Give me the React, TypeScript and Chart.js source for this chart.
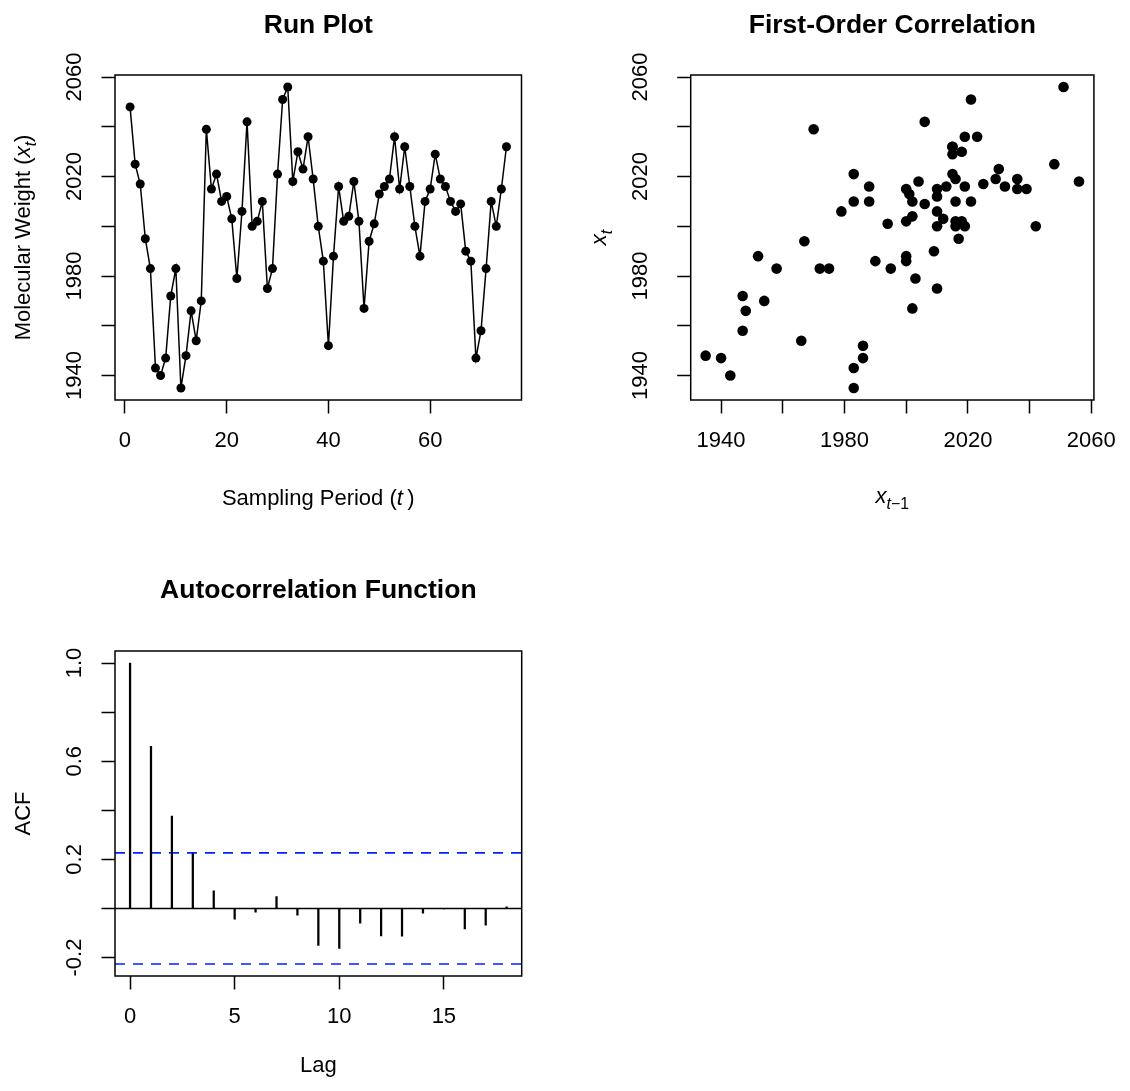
import React, { useEffect, useRef } from 'react';
import { Chart, registerables } from 'chart.js';

Chart.register(...registerables);

const FAMILY = '"Liberation Sans", Arial, Helvetica, sans-serif';
const LABEL_SIZE = 22;
const TITLE_SIZE = 26.5;
const CAP = LABEL_SIZE * 0.716;

// ---------- data ----------
const PERIODS = [
  1, 2, 3, 4, 5, 6, 7, 8, 9, 10, 11, 12, 13, 14, 15, 16, 17, 18, 19, 20,
  21, 22, 23, 24, 25, 26, 27, 28, 29, 30, 31, 32, 33, 34, 35, 36, 37, 38, 39, 40,
  41, 42, 43, 44, 45, 46, 47, 48, 49, 50, 51, 52, 53, 54, 55, 56, 57, 58, 59, 60,
  61, 62, 63, 64, 65, 66, 67, 68, 69, 70, 71, 72, 73, 74, 75,
];
const MOLECULAR_WEIGHT = [
  2048, 2025, 2017, 1995, 1983, 1943, 1940, 1947, 1972, 1983,
  1935, 1948, 1966, 1954, 1970, 2039, 2015, 2021, 2010, 2012,
  2003, 1979, 2006, 2042, 2000, 2002, 2010, 1975, 1983, 2021,
  2051, 2056, 2018, 2030, 2023, 2036, 2019, 2000, 1986, 1952,
  1988, 2016, 2002, 2004, 2018, 2002, 1967, 1994, 2001, 2013,
  2016, 2019, 2036, 2015, 2032, 2016, 2000, 1988, 2010, 2015,
  2029, 2019, 2016, 2010, 2006, 2009, 1990, 1986, 1947, 1958,
  1983, 2010, 2000, 2015, 2032,
];
// lag-1 pairs (x_{t-1}, x_t) taken from the same series
const PREV_WEIGHT = MOLECULAR_WEIGHT.slice(0, -1);
const CURR_WEIGHT = MOLECULAR_WEIGHT.slice(1);

const ACF_LAGS = [0, 1, 2, 3, 4, 5, 6, 7, 8, 9, 10, 11, 12, 13, 14, 15, 16, 17, 18];
const ACF_VALUES = [
  1.0, 0.661, 0.376, 0.224, 0.072, -0.044, -0.015, 0.048, -0.027, -0.151,
  -0.163, -0.06, -0.112, -0.113, -0.019, -0.002, -0.084, -0.068, 0.007,
];
const CONF_LIMIT = 0.2263;

// ---------- axes ----------
const PERIOD_RANGE = [-1.96, 77.96];
const WEIGHT_RANGE = [1930.16, 2060.84];
const LAG_RANGE = [-0.72, 18.72];
const ACF_RANGE = [-0.2754, 1.0491];

const PERIOD_TICKS = [0, 20, 40, 60];
const WEIGHT_TICKS = [1940, 1960, 1980, 2000, 2020, 2040, 2060];
const WEIGHT_TICK_LABELS = ['1940', '', '1980', '', '2020', '', '2060'];
const LAG_TICKS = [0, 5, 10, 15];
const ACF_TICKS = [-0.2, 0, 0.2, 0.4, 0.6, 0.8, 1.0];
const ACF_TICK_LABELS = ['-0.2', '', '0.2', '', '0.6', '', '1.0'];

type Run = { text: string; italic?: boolean; sub?: boolean };

function drawRich(ctx: CanvasRenderingContext2D, runs: Run[], size: number, cx: number, baseline: number) {
  const parts = runs.map((r) => {
    const fs = r.sub ? size * 0.72 : size;
    const font = `${r.italic ? 'italic ' : ''}${fs}px ${FAMILY}`;
    ctx.font = font;
    const w = ctx.measureText(r.text).width;
    return { ...r, font, w, dy: r.sub ? size * 0.28 : 0 };
  });
  const total = parts.reduce((s, p) => s + p.w, 0);
  let x = cx - total / 2;
  ctx.textAlign = 'left';
  ctx.textBaseline = 'alphabetic';
  for (const p of parts) {
    ctx.font = p.font;
    ctx.fillText(p.text, x, baseline + p.dy);
    x += p.w;
  }
}

interface PanelSpec {
  left: number;
  top: number;
  width: number;
  height: number;
  area: { l: number; r: number; t: number; b: number };
  title: string;
  titleBaseline: number;
  xTitle: Run[];
  xTitleBaseline: number;
  yTitle: Run[];
  yTitleCenterX: number;
  yLabelCenterX: number;
  xTicks: number[];
  xTickLabels: string[];
  yTicks: number[];
  yTickLabels: string[];
  xRange: number[];
  yRange: number[];
  type: any;
  datasets: any[];
}

function makeDecor(spec: PanelSpec) {
  return {
    id: 'decor',
    afterDraw(chart: any) {
      const { ctx, chartArea: a, scales } = chart;
      ctx.save();
      ctx.strokeStyle = '#000';
      ctx.lineWidth = 1.5;
      ctx.strokeRect(a.left, a.top, a.right - a.left, a.bottom - a.top);
      ctx.fillStyle = '#000';
      // main title
      ctx.font = `bold ${TITLE_SIZE}px ${FAMILY}`;
      ctx.textAlign = 'center';
      ctx.textBaseline = 'alphabetic';
      ctx.fillText(spec.title, (a.left + a.right) / 2, spec.titleBaseline);
      // x axis title
      drawRich(ctx, spec.xTitle, LABEL_SIZE, (a.left + a.right) / 2, spec.xTitleBaseline);
      // y tick labels (rotated, as in R)
      const ys = scales.y;
      spec.yTicks.forEach((v, i) => {
        const txt = spec.yTickLabels[i];
        if (!txt) return;
        const py = ys.getPixelForValue(v);
        ctx.save();
        ctx.translate(spec.yLabelCenterX, py);
        ctx.rotate(-Math.PI / 2);
        ctx.font = `${LABEL_SIZE}px ${FAMILY}`;
        ctx.textAlign = 'center';
        ctx.textBaseline = 'alphabetic';
        ctx.fillText(txt, 0, CAP / 2);
        ctx.restore();
      });
      // y axis title
      ctx.save();
      ctx.translate(spec.yTitleCenterX, (a.top + a.bottom) / 2);
      ctx.rotate(-Math.PI / 2);
      drawRich(ctx, spec.yTitle, LABEL_SIZE, 0, CAP / 2);
      ctx.restore();
      ctx.restore();
    },
  };
}

function Panel({ spec }: { spec: PanelSpec }) {
  const ref = useRef<HTMLCanvasElement | null>(null);
  useEffect(() => {
    if (!ref.current) return;
    const grid = {
      display: true,
      offset: false,
      drawOnChartArea: false,
      drawTicks: true,
      tickLength: 13.5,
      tickWidth: 1.5,
      tickColor: '#000',
      color: '#000',
    };
    const chart = new Chart(ref.current, {
      type: spec.type,
      data: { datasets: spec.datasets },
      options: {
        responsive: false,
        animation: false,
        events: [],
        layout: {
          autoPadding: false,
          padding: { left: 0, top: spec.area.t, right: spec.width - spec.area.r, bottom: 0 },
        },
        plugins: {
          legend: { display: false },
          tooltip: { enabled: false },
          title: { display: false },
        },
        scales: {
          x: {
            type: 'linear',
            position: 'bottom',
            min: spec.xRange[0],
            max: spec.xRange[1],
            offset: false,
            afterBuildTicks: (s: any) => {
              s.ticks = spec.xTicks.map((v) => ({ value: v }));
            },
            afterFit: (s: any) => {
              s.height = spec.height - spec.area.b;
            },
            grid,
            border: { display: false },
            ticks: {
              display: true,
              autoSkip: false,
              maxRotation: 0,
              minRotation: 0,
              padding: 14,
              color: '#000',
              font: { family: FAMILY, size: LABEL_SIZE },
              callback: (_v: any, i: number) => spec.xTickLabels[i],
            },
          },
          y: {
            type: 'linear',
            position: 'left',
            min: spec.yRange[0],
            max: spec.yRange[1],
            afterBuildTicks: (s: any) => {
              s.ticks = spec.yTicks.map((v) => ({ value: v }));
            },
            afterFit: (s: any) => {
              s.width = spec.area.l;
            },
            grid,
            border: { display: false },
            ticks: { display: false },
          },
        },
      } as any,
      plugins: [makeDecor(spec)],
    });
    return () => chart.destroy();
  }, [spec]);
  return (
    <canvas
      ref={ref}
      width={spec.width}
      height={spec.height}
      style={{ position: 'absolute', left: spec.left, top: spec.top, width: spec.width, height: spec.height }}
    />
  );
}

const runSpec: PanelSpec = {
  left: 0,
  top: 0,
  width: 565,
  height: 545,
  area: { l: 115, r: 521.5, t: 75, b: 400 },
  title: 'Run Plot',
  titleBaseline: 33,
  xTitle: [{ text: 'Sampling Period (' }, { text: 't', italic: true }, { text: '\u2009)' }],
  xTitleBaseline: 505,
  yTitle: [{ text: 'Molecular Weight (' }, { text: 'x', italic: true }, { text: 't', italic: true, sub: true }, { text: ')' }],
  yTitleCenterX: 22,
  yLabelCenterX: 73,
  xTicks: PERIOD_TICKS,
  xTickLabels: PERIOD_TICKS.map(String),
  yTicks: WEIGHT_TICKS,
  yTickLabels: WEIGHT_TICK_LABELS,
  xRange: PERIOD_RANGE,
  yRange: WEIGHT_RANGE,
  type: 'line',
  datasets: [
    {
      data: PERIODS.map((t, i) => ({ x: t, y: MOLECULAR_WEIGHT[i] })),
      borderColor: '#000',
      borderWidth: 1.5,
      backgroundColor: '#000',
      pointBackgroundColor: '#000',
      pointBorderWidth: 0,
      pointRadius: 4.5,
      tension: 0,
      fill: false,
    },
  ],
};

const scatterSpec: PanelSpec = {
  left: 565,
  top: 0,
  width: 565,
  height: 545,
  area: { l: 125.7, r: 533, t: 75, b: 400 },
  title: 'First-Order Correlation',
  titleBaseline: 33,
  xTitle: [{ text: 'x', italic: true }, { text: 't', italic: true, sub: true }, { text: '\u22121', sub: true }],
  xTitleBaseline: 503,
  yTitle: [{ text: 'x', italic: true }, { text: 't', italic: true, sub: true }],
  yTitleCenterX: 32.7,
  yLabelCenterX: 74,
  xTicks: WEIGHT_TICKS,
  xTickLabels: WEIGHT_TICK_LABELS,
  yTicks: WEIGHT_TICKS,
  yTickLabels: WEIGHT_TICK_LABELS,
  xRange: WEIGHT_RANGE,
  yRange: WEIGHT_RANGE,
  type: 'scatter',
  datasets: [
    {
      data: PREV_WEIGHT.map((p, i) => ({ x: p, y: CURR_WEIGHT[i] })),
      backgroundColor: '#000',
      borderWidth: 0,
      pointRadius: 5.3,
    },
  ],
};

const acfSpec: PanelSpec = {
  left: 0,
  top: 545,
  width: 565,
  height: 546,
  area: { l: 115, r: 521.7, t: 106, b: 431 },
  title: 'Autocorrelation Function',
  titleBaseline: 52.5,
  xTitle: [{ text: 'Lag' }],
  xTitleBaseline: 526.5,
  yTitle: [{ text: 'ACF' }],
  yTitleCenterX: 22,
  yLabelCenterX: 73,
  xTicks: LAG_TICKS,
  xTickLabels: LAG_TICKS.map(String),
  yTicks: ACF_TICKS,
  yTickLabels: ACF_TICK_LABELS,
  xRange: LAG_RANGE,
  yRange: ACF_RANGE,
  type: 'bar',
  datasets: [
    {
      type: 'bar',
      data: ACF_LAGS.map((l, i) => ({ x: l, y: ACF_VALUES[i] })),
      backgroundColor: '#000',
      borderWidth: 0,
      barThickness: 1.6,
    },
    {
      type: 'line',
      data: [
        { x: LAG_RANGE[0], y: 0 },
        { x: LAG_RANGE[1], y: 0 },
      ],
      borderColor: '#000',
      borderWidth: 1.5,
      pointRadius: 0,
    },
    {
      type: 'line',
      data: [
        { x: LAG_RANGE[0], y: CONF_LIMIT },
        { x: LAG_RANGE[1], y: CONF_LIMIT },
      ],
      borderColor: '#0022ff',
      borderWidth: 1.6,
      borderDash: [10, 8],
      pointRadius: 0,
    },
    {
      type: 'line',
      data: [
        { x: LAG_RANGE[0], y: -CONF_LIMIT },
        { x: LAG_RANGE[1], y: -CONF_LIMIT },
      ],
      borderColor: '#0022ff',
      borderWidth: 1.6,
      borderDash: [10, 8],
      pointRadius: 0,
    },
  ],
};

export default function App() {
  return (
    <div style={{ position: 'absolute', left: 0, top: 0, width: 1130, height: 1091, background: '#fff' }}>
      <Panel spec={runSpec} />
      <Panel spec={scatterSpec} />
      <Panel spec={acfSpec} />
    </div>
  );
}
